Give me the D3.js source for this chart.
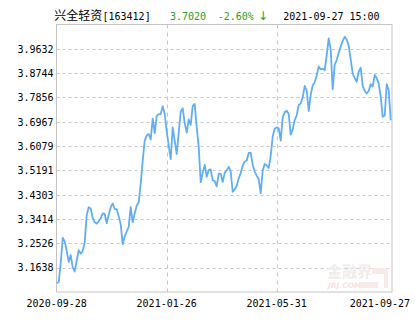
<!DOCTYPE html>
<html><head><meta charset="utf-8">
<script src="https://cdn.jsdelivr.net/npm/d3@7"></script>
<style>html,body{margin:0;padding:0;background:#fff;}svg{display:block;}</style>
</head><body>
<svg id="c" width="415" height="330"></svg>
<script>
const fundName = "兴全轻资";
const fundCode = "[163412]";
const lastPrice = "3.7020";
const changeText = "-2.60%";
const changeArrow = "↓";
const timeText = "2021-09-27 15:00";
const yTicks = [3.1638, 3.2526, 3.3414, 3.4303, 3.5191, 3.6079, 3.6967, 3.7856, 3.8744, 3.9632];
const yDomain = [3.0750, 4.0520];
const dateLabels = ["2020-09-28", "2021-01-26", "2021-05-31", "2021-09-27"];
const dateIdx = [0, 55, 110, 167];
const nav = [
3.107,3.112,3.179,3.273,3.260,3.225,3.185,3.210,3.165,3.150,
3.190,3.228,3.215,3.225,3.256,3.356,3.385,3.380,3.345,3.330,
3.325,3.333,3.345,3.362,3.360,3.326,3.356,3.385,3.398,3.378,
3.378,3.352,3.322,3.250,3.278,3.296,3.313,3.385,3.330,3.363,
3.390,3.403,3.470,3.555,3.628,3.647,3.652,3.632,3.708,3.655,
3.717,3.725,3.725,3.753,3.726,3.662,3.610,3.560,3.676,3.628,
3.579,3.656,3.734,3.746,3.692,3.657,3.705,3.685,3.755,3.762,
3.676,3.605,3.476,3.510,3.539,3.496,3.520,3.523,3.483,3.480,
3.461,3.507,3.507,3.477,3.510,3.519,3.532,3.515,3.441,3.450,
3.463,3.490,3.509,3.537,3.551,3.555,3.583,3.584,3.540,3.515,
3.500,3.487,3.435,3.518,3.543,3.537,3.528,3.572,3.643,3.672,
3.676,3.673,3.628,3.713,3.732,3.737,3.725,3.650,3.668,3.703,
3.720,3.758,3.764,3.786,3.828,3.810,3.736,3.795,3.830,3.840,
3.866,3.899,3.888,3.891,3.885,3.940,4.001,3.961,3.815,3.905,
3.922,3.949,3.972,3.992,4.007,3.997,3.975,3.925,3.873,3.856,
3.843,3.880,3.894,3.827,3.810,3.800,3.809,3.834,3.825,3.868,
3.856,3.836,3.790,3.715,3.720,3.834,3.812,3.702
];

const svg = d3.select("#c");
const L = 56.5, R = 392, T = 24.5, B = 292;
const x = d3.scaleLinear().domain([0, nav.length - 1]).range([L + 0.2, R - 1.3]);
const y = d3.scaleLinear().domain(yDomain).range([B, T]);
const mono = "'DejaVu Sans Mono', 'Liberation Mono', monospace";

// horizontal grid
svg.append("g").selectAll("line").data(yTicks).join("line")
  .attr("x1", L).attr("x2", R)
  .attr("y1", d => Math.round(y(d)) + 0.5).attr("y2", d => Math.round(y(d)) + 0.5)
  .attr("stroke", "#c8c8c8").attr("stroke-dasharray", "3,3");
// vertical grid
svg.append("g").selectAll("line").data(dateIdx.slice(1, 3)).join("line")
  .attr("x1", d => Math.round(x(d)) + 0.5).attr("x2", d => Math.round(x(d)) + 0.5)
  .attr("y1", T).attr("y2", B)
  .attr("stroke", "#c8c8c8").attr("stroke-dasharray", "4,4");

// watermark
const wm = svg.append("g");
wm.append("text").attr("x", 327).attr("y", 277).text("金融界")
  .attr("font-family", "'Noto Sans CJK SC'").attr("font-weight", "bold")
  .attr("font-size", 15).attr("fill", "#f0ecec");
wm.append("text").attr("x", 328).attr("y", 288).text("JRJ.COM")
  .attr("font-family", "'DejaVu Sans'").attr("font-style", "italic").attr("font-weight", "bold")
  .attr("font-size", 7.5).attr("fill", "#f6e2e2");
wm.append("path").attr("d", "M372 268 h16 v20 h-4 v-14 h-12 z M360 282 h18 v6 h-18 z")
  .attr("fill", "#f9eaea");

// frame
svg.append("rect").attr("x", L).attr("y", T).attr("width", R - L).attr("height", B - T)
  .attr("fill", "none").attr("stroke", "#c4c4c4").attr("stroke-width", 1);

// line
const line = d3.line().x((d, i) => x(i)).y(d => y(d));
svg.append("path").datum(nav).attr("d", line)
  .attr("fill", "none").attr("stroke", "#62adf7").attr("stroke-width", 1.8)
  .attr("stroke-linejoin", "round");

// y labels
svg.append("g").selectAll("text").data(yTicks).join("text")
  .attr("x", 53.5).attr("y", d => y(d) + 3.8).attr("text-anchor", "end")
  .attr("font-family", mono).attr("font-size", 10).attr("fill", "#000")
  .text(d => d.toFixed(4));

// x labels
svg.append("g").selectAll("text").data(dateLabels).join("text")
  .attr("x", (d, i) => i === dateLabels.length - 1 ? 410 : x(dateIdx[i]))
  .attr("y", 306.5)
  .attr("text-anchor", (d, i) => i === dateLabels.length - 1 ? "end" : "middle")
  .attr("font-family", mono).attr("font-size", 10).attr("fill", "#000")
  .text(d => d);

// title
const t = svg.append("text").attr("y", 20).attr("font-family", mono).attr("font-size", 10);
t.append("tspan").attr("x", 54.3).attr("font-family", "'Noto Sans CJK SC'").attr("font-size", 12).text(fundName);
t.append("tspan").attr("x", 102.5).text(fundCode);
t.append("tspan").attr("x", 170).attr("fill", "#2a9b2a").text(lastPrice);
t.append("tspan").attr("x", 217.7).attr("fill", "#2a9b2a").text(changeText);
t.append("tspan").attr("x", 258).attr("fill", "#2a9b2a").attr("font-family", "'DejaVu Sans'").attr("font-size", 12).text(changeArrow);
t.append("tspan").attr("x", 283.3).attr("fill", "#000").text(timeText);
</script>
</body></html>
